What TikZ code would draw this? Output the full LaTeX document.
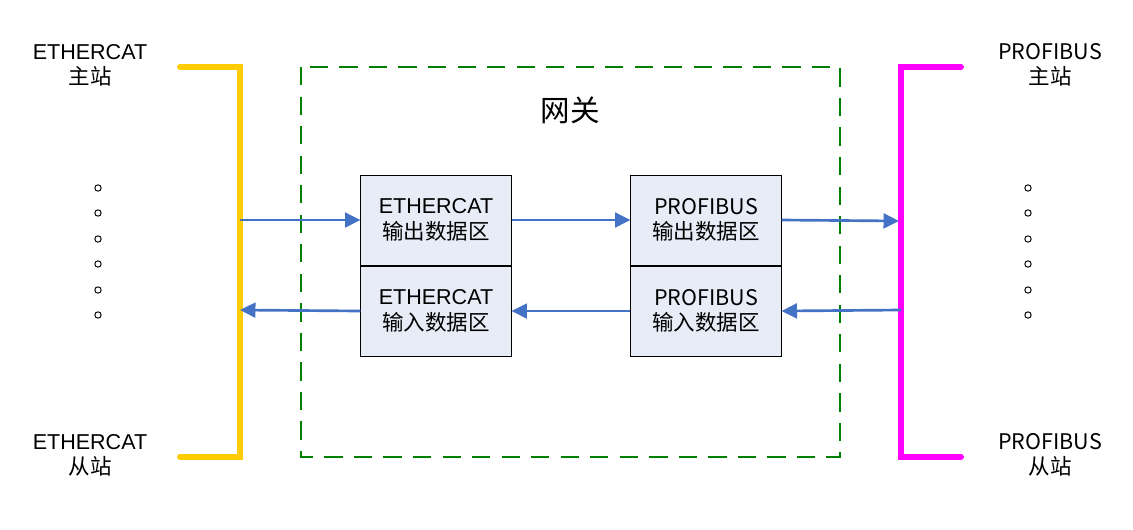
\documentclass[tikz,border=0pt]{standalone}
\usepackage{fontspec}
\setmainfont{Liberation Sans}
\newfontfamily\cjk{Noto Sans CJK SC}
\usetikzlibrary{arrows.meta,positioning}

\definecolor{ecyellow}{RGB}{255,204,0}
\definecolor{pbmagenta}{RGB}{255,0,255}
\definecolor{gwgreen}{RGB}{0,128,0}
\definecolor{boxfill}{RGB}{231,236,247}
\definecolor{flowblue}{RGB}{68,114,196}

\begin{document}
\begin{tikzpicture}[
  x=0.025cm, y=-0.025cm,
  txt/.style={font=\fontsize{15.3}{18}\selectfont, align=center, inner sep=0pt},
  databox/.style={txt, draw, line width=0.7pt, fill=boxfill,
    minimum width=3.75cm, minimum height=2.25cm},
  bus/.style={line width=4.2pt, line cap=round, line join=miter},
  flow/.style={flowblue, line width=1.9pt, -{Triangle[length=11pt,width=10.5pt]}},
  dot/.style={circle, draw, line width=0.7pt, inner sep=0pt, minimum size=4.5pt}
]
  \useasboundingbox (0,0) rectangle (1133,529);

  % masters / slaves
  \node[txt] (ecm) at (90,65) {ETHERCAT\\{\cjk 主站}};
  \node[txt] (ecs) at (90,455) {ETHERCAT\\{\cjk 从站}};
  \node[txt] (pbm) at (1050,65) {{\cjk PROFIBUS}\\{\cjk 主站}};
  \node[txt] (pbs) at (1050,455) {{\cjk PROFIBUS}\\{\cjk 从站}};

  \foreach \y [count=\i] in {188,213,239,264,290,315} {
    \node[dot] (ecd\i) at (98,\y) {};
    \node[dot] (pbd\i) at (1028,\y) {};
  }

  % bus brackets
  \coordinate (ecIn) at (240,220);
  \coordinate (ecOut) at (240,310);
  \coordinate (pbIn) at (899,221);
  \coordinate (pbOut) at (901,310);
  \draw[bus, ecyellow] (180,67) -- (240,67) -- (240,457) -- (180,457);
  \draw[bus, pbmagenta] (961,67) -- (901,67) -- (901,457) -- (961,457);

  % gateway
  \draw[gwgreen, line width=1.8pt, dash pattern=on 13pt off 8pt] (301,67) rectangle (840,457);
  \node[txt, font=\fontsize{21}{24}\selectfont\cjk] (gw) at (570,110) {网关};

  \node[databox] (eco) at (436,220) {ETHERCAT\\{\cjk 输出数据区}};
  \node[databox, below=0pt of eco] (eci) {ETHERCAT\\{\cjk 输入数据区}};
  \node[databox] (pbo) at (706,220) {{\cjk PROFIBUS}\\{\cjk 输出数据区}};
  \node[databox, below=0pt of pbo] (pbi) {{\cjk PROFIBUS}\\{\cjk 输入数据区}};

  % data flow
  \draw[flow] (ecIn) -- (eco.west);
  \draw[flow] (eco.east) -- (pbo.west);
  \draw[flow] (pbo.east) -- (pbIn);
  \draw[flow] (pbOut) -- (pbi.east);
  \draw[flow] (pbi.west) -- (eci.east);
  \draw[flow] (eci.west) -- (ecOut);
\end{tikzpicture}
\end{document}
